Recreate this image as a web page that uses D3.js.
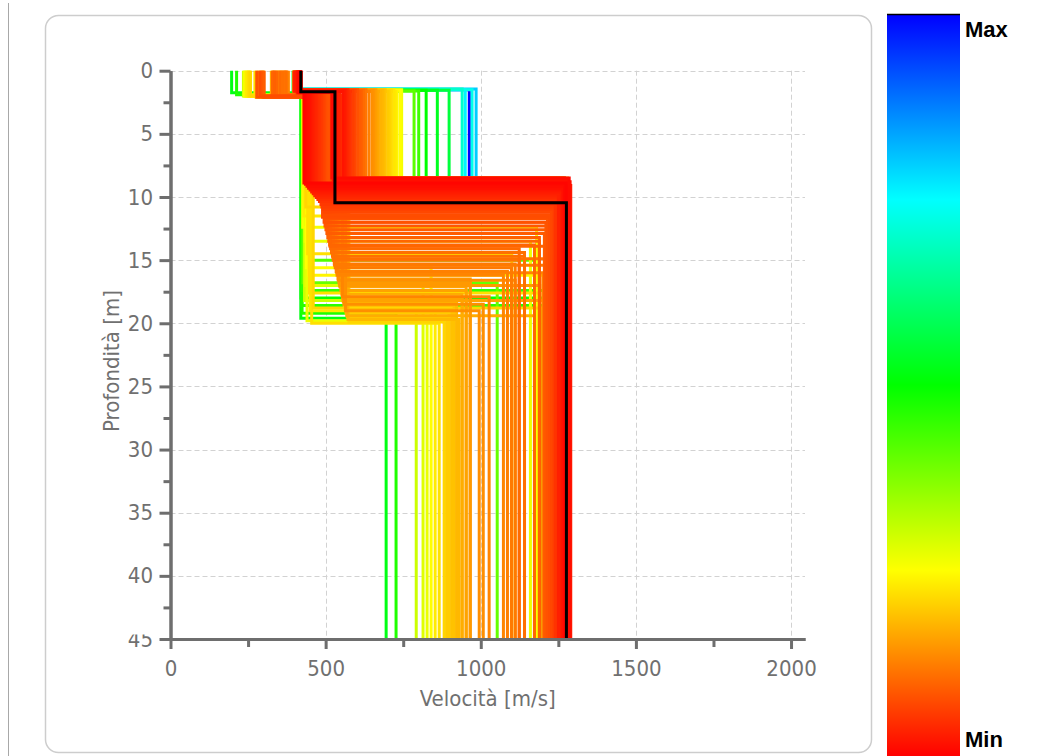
<!DOCTYPE html>
<html><head><meta charset="utf-8">
<script src="https://cdn.jsdelivr.net/npm/d3@7"></script>
<style>
html,body{margin:0;padding:0;background:#fff;}
svg{display:block;}
</style></head><body>
<svg id="chart" width="1039" height="756"></svg>
<script>
// ---- DATA (one entry per model; misfit 0 = Min/red, 1 = Max/blue) ----
const misfit = [
  1.00,0.80,0.76,0.73,0.70,0.56,0.53,0.50,0.44,0.41,
  0.52,0.47,0.49,0.46,0.45,0.40,0.42,
  0.26,0.25,0.24,0.23,0.225,0.215,0.205,0.20,0.19,0.18,0.175,0.165,0.155,0.145,0.14,0.125,0.115,0.105,0.095,0.09,0.08,0.07,0.06,0.05,0.04,0.03,0.025,0.02,
  0.30,0.28,0.27,0.27,0.26,0.25,0.24,0.23,0.22,0.22,0.23,0.21,0.22,0.21,
  0.21,0.20,0.20,0.19,0.19,0.18,0.18,0.17,0.17,0.16,0.16,0.15,0.15,0.14,0.14,0.13,0.13,0.125,0.12,0.12,
  0.115,0.11,0.11,0.105,0.10,0.10,0.095,0.09,0.09,0.085,0.08,0.13,0.15,0.16,0.11,0.10,0.17,0.14,0.12,0.075,
  0.005,0.01,0.012,0.015,0.02,0.025,0.03,0.035,0.04,0.045,0.05,0.055,0.06,0.065,0.07,0.075,0.08,0.085,
  0.01,0.015,0.02,0.025,0.03,0.035,0.04,0.045,0.05,0.055,0.06,0.065,0.07,0.075,0.08,0.085,0.0];
// Vs of layer 1 [m/s]
const vs1 = [
  400,405,398,410,402,395,408,400,412,405,
  197,213,405,410,400,412,408,
  400,405,410,398,412,400,405,410,398,412,400,405,410,398,412,400,405,410,398,412,400,405,410,398,412,400,405,410,
  235,240,245,250,238,248,255,252,258,272,244,276,250,256,
  285,290,300,298,330,325,330,335,340,345,350,355,360,365,370,375,380,375,365,355,
  372,372,362,352,342,332,335,295,302,292,278,368,358,348,338,328,345,282,298,288,
  420,420,418,420,415,420,418,415,420,418,415,412,410,412,410,408,410,405,
  412,415,418,410,416,419,415,412,410,418,415,412,410,408,412,410,420];
// depth of bottom of layer 1 [m]
const h1 = [
  1.5,1.45,1.5,1.5,1.45,1.55,1.55,1.55,1.6,1.6,
  1.75,1.9,1.7,1.65,1.7,1.7,1.65,
  1.5,1.55,1.6,1.65,1.5,1.55,1.6,1.65,1.5,1.55,1.6,1.65,1.5,1.55,1.6,1.65,1.5,1.55,1.6,1.65,1.5,1.55,1.6,1.65,1.5,1.55,1.6,1.65,
  2.0,2.0,1.9,2.0,2.0,2.0,2.0,2.0,2.0,2.0,2.0,2.1,2.0,2.0,
  2.1,2.0,2.1,2.0,2.1,2.0,2.1,2.0,2.1,2.0,2.1,2.0,2.1,2.0,2.1,2.0,2.0,2.0,2.0,1.9,
  1.9,1.9,2.0,2.0,2.1,2.0,2.1,2.0,2.1,2.0,2.1,2.0,2.1,2.0,2.1,2.0,2.1,2.0,2.1,2.0,
  1.7,1.7,1.7,1.7,1.7,1.7,1.7,1.7,1.7,1.75,1.75,1.75,1.8,1.8,1.8,1.8,1.8,1.8,
  1.7,1.7,1.7,1.7,1.7,1.7,1.7,1.7,1.7,1.7,1.7,1.7,1.7,1.75,1.75,1.75,1.66];
// Vs of layer 2 [m/s]
const vs2 = [
  963,985,950,972,940,898,860,824,800,785,
  420,424,421,423,425,427,430,
  745,740,730,725,720,712,705,700,692,685,678,670,662,655,650,640,630,622,615,610,603,595,588,580,572,565,560,555,
  432,436,440,434,426,438,445,450,442,455,430,460,448,436,
  575,570,566,563,560,557,572,555,552,549,546,543,540,564,559,554,537,534,531,528,
  525,522,519,516,513,510,507,504,501,498,495,536,545,556,524,514,568,541,529,490,
  430,435,440,445,450,455,460,465,470,475,480,485,488,492,496,500,503,508,
  520,525,530,535,540,545,528,532,538,526,522,534,529,518,512,515,530];
// depth of bottom of layer 2 [m]
const z2 = [
  8.5,8.5,8.5,8.5,8.5,8.5,8.5,8.5,8.5,8.5,
  19.6,19.2,18.0,18.6,17.4,16.8,15.0,
  8.5,8.6,8.7,8.8,8.5,8.6,8.7,8.8,8.5,8.6,8.7,8.8,8.5,8.6,8.7,8.8,8.5,8.6,8.7,8.8,8.5,8.6,8.7,8.8,8.5,8.6,8.7,8.8,
  18.2,17.0,19.8,13.5,12.4,15.6,16.2,19.0,14.5,20.0,11.5,18.8,17.6,10.8,
  19.9,19.5,19.2,18.9,18.6,18.3,19.7,18.0,17.7,17.4,17.1,16.8,16.5,19.0,18.5,17.9,16.2,15.9,15.6,15.3,
  15.0,14.7,14.4,14.1,13.8,13.5,13.2,12.9,12.6,12.3,12.0,16.0,17.0,18.2,14.9,13.9,19.4,16.6,15.4,11.6,
  8.9,9.0,9.15,9.3,9.45,9.6,9.75,9.9,10.05,10.2,10.35,10.6,10.8,11.0,11.2,11.4,11.7,12.0,
  8.5,8.65,8.8,8.95,9.1,9.25,9.4,9.55,9.7,9.85,10.0,10.15,10.3,10.5,10.7,10.9,10.45];
// Vs of half-space [m/s]
const vs3 = [
  1250,1270,1240,1260,1255,1250,1235,1265,1250,1245,
  695,727,1230,1200,1215,1053,1180,
  1250,1265,1280,1240,1270,1250,1265,1280,1240,1270,1250,1265,1280,1240,1270,1250,1265,1280,1240,1270,1250,1265,1280,1240,1270,1250,1265,1280,
  792,814,827,1160,1180,840,1210,853,1100,866,1225,1200,1190,1240,
  882,890,898,906,914,922,930,940,940,953,953,966,966,995,1008,1027,1073,1086,1099,1111,
  1124,1141,1141,1124,1173,1189,1189,1205,1215,1230,1245,1200,1190,1205,1220,1235,1173,1111,1250,1255,
  1275,1270,1278,1265,1272,1260,1270,1262,1268,1255,1262,1250,1241,1235,1228,1222,1215,1210,
  1285,1280,1288,1282,1290,1284,1279,1286,1280,1276,1284,1278,1282,1270,1266,1258,1276];

const xTickValues = [0,500,1000,1500,2000];
const xMinorValues = [250,750,1250,1750];
const yTickValues = [0,5,10,15,20,25,30,35,40,45];
const yMinorValues = [2.5,7.5,12.5,17.5,22.5,27.5,32.5,37.5,42.5];
const xTitle = "Velocità [m/s]";
const yTitle = "Profondità [m]";
const colorStops = [0,0.25,0.5,0.75,1];
const colorRange = ["#ff0000","#ffff00","#00ff00","#00ffff","#0000ff"];
const legendLabels = ["Max","Min"];
const xMax = 2045, maxDepth = 45;

// ---- DRAW ----
const svg = d3.select("#chart");
const axisColor = "#6e6e6e", textColor = "#707070";
const tickFont = "'DejaVu Sans Condensed','DejaVu Sans',sans-serif";

svg.append("line").attr("x1",8.5).attr("x2",8.5).attr("y1",3).attr("y2",756)
  .attr("stroke","#a8a8a8").attr("stroke-width",1);
svg.append("rect").attr("x",45.5).attr("y",15.5).attr("width",826).attr("height",737)
  .attr("rx",13).attr("fill","#fff").attr("stroke","#cdcdcd").attr("stroke-width",1.5);

const x = d3.scaleLinear().domain([0,xMax]).range([170.5,805]);
const y = d3.scaleLinear().domain([0,maxDepth]).range([70.7,639]);
const color = d3.scaleLinear().domain(colorStops).range(colorRange);

// grid
const grid = svg.append("g").attr("stroke","#d2d2d2").attr("stroke-width",1).attr("stroke-dasharray","5,3");
grid.selectAll(".h").data(yTickValues.filter(d=>d<maxDepth)).join("line")
  .attr("x1",x(0)).attr("x2",x(xMax)).attr("y1",d=>Math.round(y(d))+0.5).attr("y2",d=>Math.round(y(d))+0.5);
grid.selectAll(".v").data(xTickValues.filter(d=>d>0)).join("line")
  .attr("y1",y(0)).attr("y2",y(maxDepth)).attr("x1",d=>Math.round(x(d))+0.5).attr("x2",d=>Math.round(x(d))+0.5);

// clip
svg.append("clipPath").attr("id","plotclip").append("rect")
  .attr("x",x(0)).attr("y",y(0)-2).attr("width",x(xMax)-x(0)).attr("height",y(maxDepth)-y(0)+2);

const line = d3.line().x(d=>x(d[0])).y(d=>y(d[1]));
const profile = i => [[vs1[i],0],[vs1[i],h1[i]],[vs2[i],h1[i]],[vs2[i],z2[i]],[vs3[i],z2[i]],[vs3[i],maxDepth]];
const order = d3.range(misfit.length).sort((a,b)=>misfit[b]-misfit[a]);
const best = d3.minIndex(misfit);

const gm = svg.append("g").attr("clip-path","url(#plotclip)");
gm.selectAll("path.m").data(order).join("path")
  .attr("d",i=>line(profile(i))).attr("fill","none")
  .attr("stroke",i=>color(misfit[i])).attr("stroke-width",3).attr("stroke-linejoin","miter");
gm.append("path").attr("d",line(profile(best))).attr("fill","none")
  .attr("stroke","#000").attr("stroke-width",3);

// axes
function styleAxis(g){
  g.select(".domain").attr("stroke",axisColor).attr("stroke-width",3);
  g.selectAll(".tick line").attr("stroke",axisColor).attr("stroke-width",3);
  g.selectAll(".tick text").attr("fill",textColor).style("font-family",tickFont).style("font-size","22px");
}
const gyMinor = svg.append("g").attr("transform",`translate(${x(0)},0)`)
  .call(d3.axisLeft(y).tickValues(yMinorValues).tickSize(7).tickSizeOuter(0).tickFormat(""));
styleAxis(gyMinor);
const gxMinor = svg.append("g").attr("transform",`translate(0,${y(maxDepth)})`)
  .call(d3.axisBottom(x).tickValues(xMinorValues).tickSize(8).tickSizeOuter(0).tickFormat(""));
styleAxis(gxMinor);
const gy = svg.append("g").attr("transform",`translate(${x(0)},0)`)
  .call(d3.axisLeft(y).tickValues(yTickValues).tickSize(11).tickSizeOuter(0).tickPadding(6.5).tickFormat(d3.format("d")));
styleAxis(gy);
const gx = svg.append("g").attr("transform",`translate(0,${y(maxDepth)})`)
  .call(d3.axisBottom(x).tickValues(xTickValues).tickSize(10).tickSizeOuter(0).tickPadding(11).tickFormat(d3.format("d")));
styleAxis(gx);

// partially hidden last y label
svg.append("clipPath").attr("id","lastlab").append("rect")
  .attr("x",-80).attr("y",-5).attr("width",80).attr("height",30);
gy.selectAll(".tick").filter(d=>d===maxDepth).select("text").attr("clip-path","url(#lastlab)");

// titles
svg.append("text").attr("x",(x(0)+x(xMax))/2).attr("y",706).attr("text-anchor","middle")
  .attr("fill",textColor).style("font-family",tickFont).style("font-size","22px").text(xTitle);
svg.append("text").attr("transform","translate(119,361) rotate(-90)").attr("text-anchor","middle")
  .attr("fill",textColor).style("font-family",tickFont).style("font-size","22px").text(yTitle);

// colour bar
const grad = svg.append("defs").append("linearGradient").attr("id","cbar")
  .attr("x1",0).attr("y1",0).attr("x2",0).attr("y2",1);
grad.selectAll("stop").data(colorStops.slice().reverse()).join("stop")
  .attr("offset",d=>(1-d)).attr("stop-color",d=>color(d));
svg.append("rect").attr("x",887).attr("y",14).attr("width",73).attr("height",742).attr("fill","url(#cbar)");
svg.append("line").attr("x1",887).attr("x2",960).attr("y1",14.5).attr("y2",14.5).attr("stroke","#000").attr("stroke-width",1.5);
svg.selectAll("text.leg").data(legendLabels).join("text").attr("class","leg")
  .attr("x",965).attr("y",(d,i)=>i===0?36.5:746.5)
  .style("font-family","'Liberation Sans',Arial,sans-serif").style("font-weight","bold").style("font-size","22px")
  .attr("fill","#000").text(d=>d);
</script>
</body></html>
